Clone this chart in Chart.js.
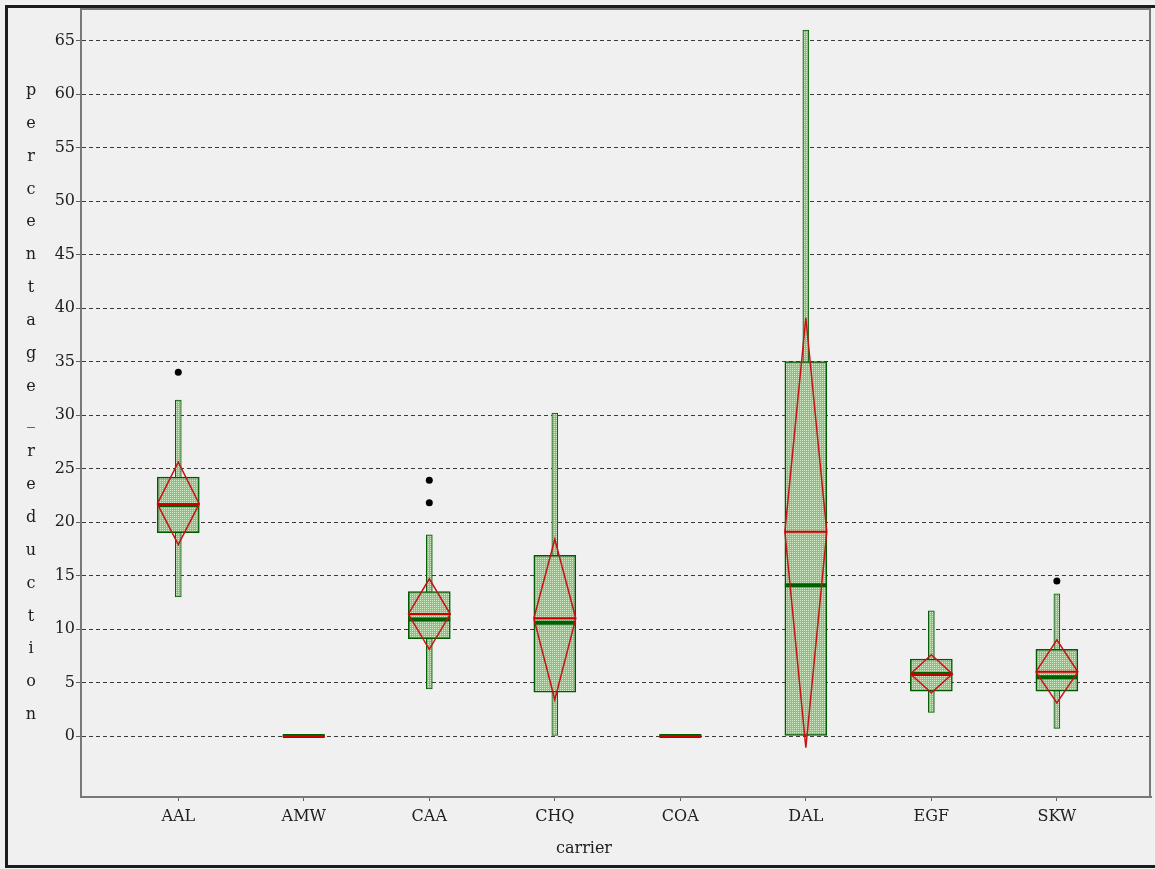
<!DOCTYPE html>
<html>
<head>
<meta charset="utf-8">
<script src="https://cdn.jsdelivr.net/npm/chart.js@4.4.1/dist/chart.umd.min.js"></script>
<style>
  html, body { margin: 0; padding: 0; background: #f0f0f0; }
  #wrap { position: relative; width: 1155px; height: 869px; overflow: hidden; }
  #frame { position: absolute; left: 5px; top: 5px; width: 1200px; height: 863px; box-sizing: border-box; border: 3px solid #1c1c1c; pointer-events: none; }
  canvas { position: absolute; left: 0; top: 0; }
</style>
</head>
<body>
<div id="wrap">
  <canvas id="chart" width="1155" height="869"></canvas>
  <div id="frame"></div>
</div>
<script>
// -----------------------
// Data
// -----------------------
const carriers    = ["AAL", "AMW", "CAA", "CHQ", "COA", "DAL", "EGF", "SKW"];
const whiskerLow  = [13.0, 0, 4.4, 0.0, 0, 0.0, 2.2, 0.7];
const q1          = [19.0, 0, 9.1, 4.1, 0, 0.0, 4.2, 4.2];
const medians     = [21.6, 0, 10.9, 10.6, 0, 14.1, 5.8, 5.5];
const q3          = [24.2, 0, 13.5, 16.9, 0, 35.0, 7.2, 8.1];
const whiskerHigh = [31.4, 0, 18.8, 30.2, 0, 66.0, 11.7, 13.3];
const means       = [21.7, 0, 11.4, 11.0, 0, 19.1, 5.8, 6.0];
const ciLow       = [17.9, 0, 8.1, 3.4, 0, -1.1, 4.05, 3.1];
const ciHigh      = [25.6, 0, 14.7, 18.4, 0, 39.1, 7.6, 9.0];
const outlierCarrier = ["AAL", "CAA", "CAA", "SKW"];
const outlierValue   = [34.0, 23.9, 21.8, 14.5];
const yTicks = [0, 5, 10, 15, 20, 25, 30, 35, 40, 45, 50, 55, 60, 65];
const yTitle = "percentage_reduction";
const xTitle = "carrier";

const BOX_HALF = 0.167; // half box width in category units

// -----------------------
// Build datasets
// -----------------------
const ctx = document.getElementById("chart").getContext("2d");

// fine green grid fill, like the original dotted hatch
function makeHatch() {
  const c = document.createElement("canvas");
  c.width = 2; c.height = 2;
  const g = c.getContext("2d");
  g.fillStyle = "#84c47f";
  g.fillRect(0, 0, 2, 2);
  g.fillStyle = "#d2ecc8";
  g.fillRect(0, 0, 1, 1);
  return ctx.createPattern(c, "repeat");
}
const hatch = makeHatch();

const boxData = carriers.map((c, i) => ({ x: i, y: [q1[i], q3[i]] }));
const whiskerData = carriers.map((c, i) => ({ x: i, y: [whiskerLow[i], whiskerHigh[i]] }));

function hLines(values) {
  const pts = [];
  values.forEach((v, i) => {
    pts.push({ x: i - BOX_HALF, y: v }, { x: i + BOX_HALF, y: v }, { x: i, y: null });
  });
  return pts;
}

const diamondData = [];
carriers.forEach((c, i) => {
  diamondData.push(
    { x: i - BOX_HALF, y: means[i] },
    { x: i, y: ciHigh[i] },
    { x: i + BOX_HALF, y: means[i] },
    { x: i, y: ciLow[i] },
    { x: i - BOX_HALF, y: means[i] },
    { x: i, y: null }
  );
});

const outlierData = outlierCarrier.map((c, k) => ({ x: carriers.indexOf(c), y: outlierValue[k] }));

// -----------------------
// Titles + plot frame
// -----------------------
const decorPlugin = {
  id: "decor",
  afterDraw(chart) {
    const c = chart.ctx;
    const a = chart.chartArea;
    c.save();
    c.strokeStyle = "#787878";
    c.lineWidth = 2;
    c.beginPath();
    c.moveTo(a.left, a.top + 1);
    c.lineTo(a.right - 1, a.top + 1);
    c.lineTo(a.right - 1, a.bottom);
    c.stroke();

    c.font = '16px "DejaVu Serif"';
    c.fillStyle = "#202020";
    c.textAlign = "center";
    c.textBaseline = "alphabetic";
    [...yTitle].forEach((ch, i) => c.fillText(ch, 31, 95 + i * 32.85));
    c.fillText(xTitle, 584, 853);
    c.restore();
  }
};

const tickFont = { family: "DejaVu Serif", size: 16 };

new Chart(ctx, {
  type: "bar",
  data: {
    datasets: [
      { type: "scatter", data: outlierData, order: 0,
        pointRadius: 3.5, pointBackgroundColor: "#000", pointBorderWidth: 0 },
      { type: "line", data: hLines(means), order: 1,
        borderColor: "#cc0000", borderWidth: 2, pointRadius: 0 },
      { type: "line", data: diamondData, order: 2,
        borderColor: "#c41414", borderWidth: 1.5, pointRadius: 0 },
      { type: "line", data: hLines(medians), order: 3,
        borderColor: "#006000", borderWidth: 4, pointRadius: 0 },
      { type: "bar", data: boxData, order: 4, grouped: false, barThickness: 42,
        backgroundColor: hatch, borderColor: "#005a00", borderWidth: 1.5, borderSkipped: false },
      { type: "bar", data: whiskerData, order: 5, grouped: false, barThickness: 6,
        backgroundColor: hatch, borderColor: "#005a00", borderWidth: 1, borderSkipped: false }
    ]
  },
  options: {
    responsive: false,
    animation: false,
    devicePixelRatio: 1,
    layout: { padding: { top: 8, right: 3, left: 0, bottom: 0 } },
    plugins: { legend: { display: false }, tooltip: { enabled: false } },
    scales: {
      x: {
        type: "linear",
        offset: false,
        min: -0.775,
        max: 7.75,
        afterBuildTicks: s => { s.ticks = carriers.map((c, i) => ({ value: i })); },
        afterFit: s => { s.height = 72; s.paddingLeft = 0; s.paddingRight = 0; },
        ticks: { callback: v => carriers[v], font: tickFont, color: "#202020", padding: 6, maxRotation: 0, autoSkip: false },
        grid: { offset: false, drawOnChartArea: false, tickLength: 4, tickColor: "#606060" },
        border: { color: "#787878", width: 2 }
      },
      y: {
        type: "linear",
        min: -5.7,
        max: 68.06,
        afterBuildTicks: s => { s.ticks = yTicks.map(v => ({ value: v })); },
        afterFit: s => { s.width = 81; s.paddingTop = 0; s.paddingBottom = 0; },
        ticks: { font: tickFont, color: "#202020", padding: 1 },
        grid: { color: "#3a3a3a", lineWidth: 1, tickLength: 5, tickColor: "#606060" },
        border: { color: "#787878", width: 2, dash: [4, 3] }
      }
    }
  },
  plugins: [decorPlugin]
});
</script>
</body>
</html>
